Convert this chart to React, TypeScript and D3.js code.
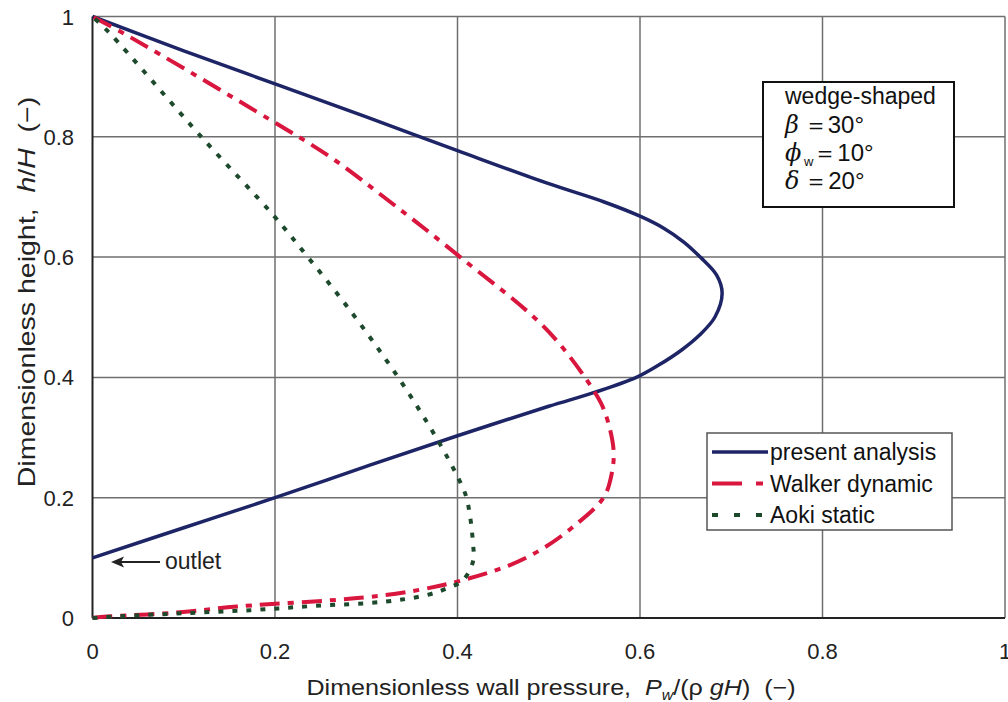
import React from 'react';
import * as d3 from 'd3';

const W = 1008;
const H = 702;

// present analysis (solid navy)
const presentP = [0, 0.1, 0.2, 0.3, 0.4, 0.5, 0.55, 0.596, 0.62, 0.646, 0.665, 0.682, 0.69, 0.684, 0.666, 0.648, 0.626, 0.6, 0.56, 0.5, 0.4, 0.3, 0.2, 0.1, 0];
const presentH = [0.1, 0.15, 0.2, 0.252, 0.303, 0.352, 0.375, 0.4, 0.42, 0.446, 0.47, 0.5, 0.54, 0.57, 0.6, 0.625, 0.648, 0.668, 0.692, 0.722, 0.777, 0.833, 0.888, 0.943, 1];

// Walker dynamic (red dash-dot)
const walkerP = [0, 0.012, 0.092, 0.158, 0.297, 0.359, 0.406, 0.4575, 0.494, 0.527, 0.56, 0.569, 0.571, 0.562, 0.551, 0.498, 0.403, 0.326, 0.26, 0.195, 0.041, 0];
const walkerH = [0, 0.002, 0.009, 0.019, 0.034, 0.047, 0.063, 0.088, 0.116, 0.152, 0.2, 0.24, 0.28, 0.34, 0.374, 0.479, 0.6, 0.692, 0.767, 0.828, 0.966, 1];

// Aoki static (green dotted)
const aokiP = [0, 0.03, 0.1, 0.173, 0.242, 0.319, 0.366, 0.388, 0.406, 0.417, 0.417, 0.41, 0.401, 0.377, 0.335, 0.279, 0.236, 0.198, 0.121, 0.019, 0];
const aokiH = [0, 0.003, 0.008, 0.013, 0.02, 0.027, 0.038, 0.049, 0.063, 0.094, 0.124, 0.199, 0.232, 0.299, 0.4, 0.518, 0.6, 0.67, 0.797, 0.972, 1];

const xTicks = [0, 0.2, 0.4, 0.6, 0.8, 1];
const yTicks = [0, 0.2, 0.4, 0.6, 0.8, 1];

const NAVY = '#1e2566';
const RED = '#d9163d';
const GREEN = '#1d4a2c';

const series = [
  { name: 'present analysis', p: presentP, h: presentH, color: NAVY, dash: null, width: 3.5 },
  { name: 'Walker dynamic', p: walkerP, h: walkerH, color: RED, dash: '20 8 6 8', width: 4 },
  { name: 'Aoki static', p: aokiP, h: aokiH, color: GREEN, dash: '5 9', width: 4 },
];

const FONT = '"Liberation Sans", Arial, sans-serif';
const GREEK = '"DejaVu Serif", serif';

export default function App() {
  const x = d3.scaleLinear().domain([0, 1]).range([92.5, 1005]);
  const y = d3.scaleLinear().domain([0, 1]).range([618, 16.5]);

  const line = d3.line<[number, number]>()
    .x(d => x(d[0]))
    .y(d => y(d[1]))
    .curve(d3.curveCatmullRom.alpha(0.5));

  return (
    <svg width={W} height={H} style={{ position: 'absolute', left: 0, top: 0, background: '#fff' }}
      fontFamily={FONT}>
      <rect x={0} y={0} width={W} height={H} fill="#fff" />

      {/* grid */}
      {xTicks.filter(t => t > 0).map(t => (
        <line key={'gx' + t} x1={x(t)} x2={x(t)} y1={y(0)} y2={y(1)} stroke="#6f6f6f" strokeWidth={1.5} />
      ))}
      {yTicks.filter(t => t > 0).map(t => (
        <line key={'gy' + t} x1={x(0)} x2={x(1)} y1={y(t)} y2={y(t)} stroke="#6f6f6f" strokeWidth={1.5} />
      ))}
      <line x1={x(0)} x2={x(0)} y1={y(0)} y2={y(1)} stroke="#222" strokeWidth={2} />
      <line x1={x(0)} x2={x(1)} y1={y(0)} y2={y(0)} stroke="#222" strokeWidth={2} />

      {/* tick labels */}
      {xTicks.map(t => (
        <text key={'tx' + t} x={x(t)} y={659} fontSize={22} textAnchor="middle" fill="#222">{String(t)}</text>
      ))}
      {yTicks.map(t => (
        <text key={'ty' + t} x={74} y={y(t) + 8} fontSize={22} textAnchor="end" fill="#222">{String(t)}</text>
      ))}

      {/* axis titles */}
      <g transform="translate(551,695) scale(1.14,1)">
        <text x={0} y={0} fontSize={22} textAnchor="middle" fill="#222">
          Dimensionless wall pressure,{'\u00a0\u00a0'}
          <tspan fontStyle="italic">P</tspan>
          <tspan fontStyle="italic" fontSize={14} dy={5}>w</tspan>
          <tspan dy={-5}>/(</tspan>
          <tspan>ρ</tspan>
          <tspan fontStyle="italic">{'\u00a0'}gH</tspan>
          <tspan>)</tspan>
          <tspan>{'\u00a0\u00a0'}(−)</tspan>
        </text>
      </g>
      <g transform="translate(35,292) rotate(-90) scale(1.24,1)">
        <text x={0} y={0} fontSize={23} textAnchor="middle" fill="#222">
          Dimensionless height,{'\u00a0\u00a0'}
          <tspan fontStyle="italic">h</tspan>
          <tspan>/</tspan>
          <tspan fontStyle="italic">H</tspan>
          <tspan>{'\u00a0\u00a0'}(−)</tspan>
        </text>
      </g>

      {/* curves */}
      {series.map(s => (
        <path key={s.name}
          d={line(s.p.map((v, i) => [v, s.h[i]] as [number, number])) || ''}
          fill="none" stroke={s.color} strokeWidth={s.width}
          strokeDasharray={s.dash || undefined} />
      ))}

      {/* outlet annotation */}
      <line x1={160} x2={118} y1={562} y2={562} stroke="#222" strokeWidth={1.8} />
      <path d="M111,562 L124,556.5 L121,562 L124,567.5 Z" fill="#222" />
      <text x={165} y={569} fontSize={23} fill="#222">outlet</text>

      {/* condition box */}
      <rect x={763} y={82} width={191} height={125} fill="#fff" stroke="#111" strokeWidth={2} />
      <text x={785} y={104} fontSize={23} fill="#111">wedge-shaped</text>
      <text x={785} y={133} fontSize={24} fill="#111">
        <tspan fontFamily={GREEK} fontStyle="italic">β</tspan>
        <tspan>{'\u2009'}＝30°</tspan>
      </text>
      <text x={785} y={161} fontSize={24} fill="#111">
        <tspan fontFamily={GREEK} fontStyle="italic">ϕ</tspan>
        <tspan fontSize={13} dy={5}>{'\u2009'}w</tspan>
        <tspan dy={-5}>＝10°</tspan>
      </text>
      <text x={785} y={189} fontSize={24} fill="#111">
        <tspan fontFamily={GREEK} fontStyle="italic">δ</tspan>
        <tspan>{'\u2009'}＝20°</tspan>
      </text>

      {/* legend */}
      <rect x={707} y={433} width={245} height={97} fill="#fff" stroke="#555" strokeWidth={1.5} />
      {series.map((s, i) => {
        const ly = 452 + i * 31.5;
        return (
          <g key={'lg' + s.name}>
            <line x1={712} x2={768} y1={ly} y2={ly} stroke={s.color} strokeWidth={s.width}
              strokeDasharray={i === 1 ? '30 14 7 10' : i === 2 ? '6 16' : undefined} />
            <text x={770} y={ly + 8} fontSize={23} fill="#111">{s.name}</text>
          </g>
        );
      })}
    </svg>
  );
}
